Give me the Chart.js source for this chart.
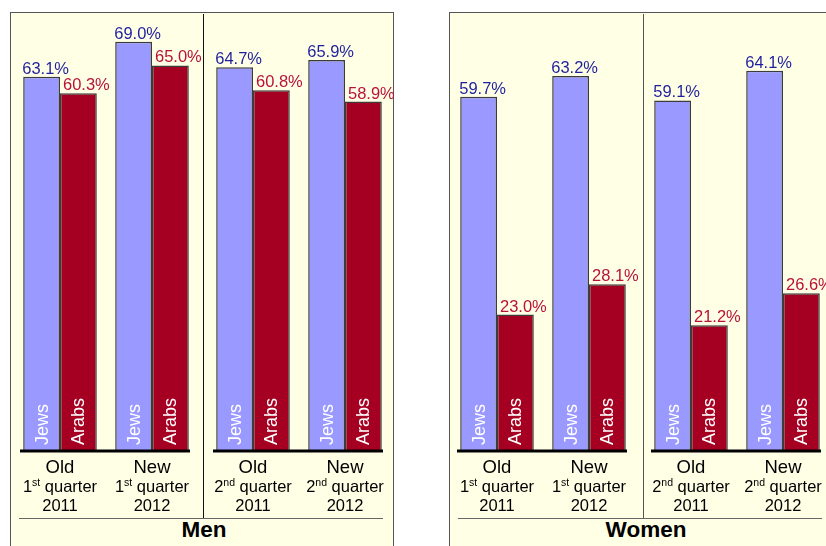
<!DOCTYPE html>
<html>
<head>
<meta charset="utf-8">
<script src="https://cdn.jsdelivr.net/npm/chart.js@4.4.1/dist/chart.umd.min.js"></script>
<style>
  html, body { margin: 0; padding: 0; background: #fff; overflow: hidden; }
  body { width: 826px; height: 546px; position: relative; font-family: "Liberation Sans", Arial, sans-serif; }
  .panel { position: absolute; top: 12px; height: 600px; background: #ffffe6; border: 1px solid #555; box-sizing: border-box; }
  .vline { position: absolute; top: 14px; height: 504px; width: 1px; }
  .hline { position: absolute; top: 518px; height: 1px; background: #666; }
  .title { position: absolute; top: 519px; width: 200px; text-align: center; font-weight: bold; font-size: 22.5px; line-height: 22px; color: #000; }
  canvas { position: absolute; top: 0; }
</style>
</head>
<body>
<div class="panel" style="left:10px;width:384px"></div>
<div class="panel" style="left:449px;width:420px"></div>
<div class="vline" style="left:203px;background:#111"></div>
<div class="vline" style="left:643px;background:#555"></div>
<div class="hline" style="left:19px;width:364px"></div>
<div class="hline" style="left:458px;width:364px"></div>
<div class="title" id="titleMen" style="left:104px"></div>
<div class="title" id="titleWomen" style="left:546px"></div>

<canvas id="menA" width="204" height="546" style="left:4px"></canvas>
<canvas id="menB" width="204" height="546" style="left:197px"></canvas>
<canvas id="womenA" width="204" height="546" style="left:441px"></canvas>
<canvas id="womenB" width="204" height="546" style="left:635px"></canvas>

<script>
// chart values
const panelTitles = ["Men", "Women"];
const seriesNames = ["Jews", "Arabs"];
const periods = ["Old", "New", "Old", "New"];
const quarterNums = ["1", "1", "2", "2"];
const quarterSuffix = ["st", "st", "nd", "nd"];
const years = ["2011", "2012", "2011", "2012"];

const menJews = [63.1, 69.0, 64.7, 65.9];
const menArabs = [60.3, 65.0, 60.8, 58.9];
const womenJews = [59.7, 63.2, 59.1, 64.1];
const womenArabs = [23.0, 28.1, 21.2, 26.6];

const FONT = '"Liberation Sans", Arial, sans-serif';
const barFill = ["#9999ff", "#a50021"];
const labelColor = ["#1f1f9e", "#b8123a"];

document.getElementById("titleMen").textContent = panelTitles[0];
document.getElementById("titleWomen").textContent = panelTitles[1];

const labelsPlugin = {
  id: "labels",
  afterDatasetsDraw(chart) {
    const ctx = chart.ctx;
    const area = chart.chartArea;
    const offset = chart.options.plugins.labels.offset;
    ctx.save();

    // thick baseline under the bars
    ctx.strokeStyle = "#000";
    ctx.lineWidth = 3;
    ctx.beginPath();
    ctx.moveTo(area.left + 6, area.bottom);
    ctx.lineTo(area.right - 8, area.bottom);
    ctx.stroke();

    chart.data.datasets.forEach((ds, di) => {
      const meta = chart.getDatasetMeta(di);
      meta.data.forEach((bar, i) => {
        const left = bar.x - bar.width / 2;
        // value above the bar
        ctx.font = "16.5px " + FONT;
        ctx.fillStyle = labelColor[di];
        ctx.textAlign = "left";
        ctx.textBaseline = "alphabetic";
        ctx.fillText(ds.data[i].toFixed(1) + "%", left + (di === 0 ? -1 : 3), bar.y - 3);
        // series name inside the bar
        ctx.save();
        ctx.translate(bar.x + 1, bar.base - 6);
        ctx.rotate(-Math.PI / 2);
        ctx.font = "18px " + FONT;
        ctx.fillStyle = "#fff";
        ctx.textBaseline = "middle";
        ctx.fillText(ds.label, 0, 0);
        ctx.restore();
      });
    });

    // category labels under each group
    const xs = chart.scales.x;
    chart.data.labels.forEach((lab, i) => {
      const k = offset + i;
      const cx = xs.getPixelForValue(i);
      ctx.fillStyle = "#000";
      ctx.textAlign = "center";
      ctx.textBaseline = "alphabetic";
      ctx.font = "18.5px " + FONT;
      ctx.fillText(lab, cx, area.bottom + 22);

      ctx.font = "16.5px " + FONT;
      const wNum = ctx.measureText(quarterNums[k]).width;
      const wRest = ctx.measureText(" quarter").width;
      ctx.font = "10.5px " + FONT;
      const wSup = ctx.measureText(quarterSuffix[k]).width;
      let x = cx - (wNum + wSup + wRest) / 2;
      const y2 = area.bottom + 41;
      ctx.textAlign = "left";
      ctx.font = "16.5px " + FONT;
      ctx.fillText(quarterNums[k], x, y2);
      x += wNum;
      ctx.font = "10.5px " + FONT;
      ctx.fillText(quarterSuffix[k], x, y2 - 6);
      x += wSup;
      ctx.font = "16.5px " + FONT;
      ctx.fillText(" quarter", x, y2);

      ctx.textAlign = "center";
      ctx.fillText(years[k], cx, area.bottom + 60);
    });
    ctx.restore();
  }
};

function makeHalf(id, jews, arabs, start) {
  const end = start + 2;
  return new Chart(document.getElementById(id), {
    type: "bar",
    data: {
      labels: periods.slice(start, end),
      datasets: [
        { label: seriesNames[0], data: jews.slice(start, end), backgroundColor: barFill[0], borderColor: "#3c3c3c", borderWidth: 1.5 },
        { label: seriesNames[1], data: arabs.slice(start, end), backgroundColor: barFill[1], borderColor: "#3c3c3c", borderWidth: 1.5 }
      ]
    },
    options: {
      responsive: false,
      animation: false,
      layout: { padding: { left: 10, right: 10, top: 12, bottom: 95 } },
      datasets: { bar: { categoryPercentage: 0.8, barPercentage: 1.0 } },
      scales: {
        x: { display: false },
        y: { display: false, min: 0, max: 74 }
      },
      plugins: {
        legend: { display: false },
        tooltip: { enabled: false },
        labels: { offset: start }
      }
    },
    plugins: [labelsPlugin]
  });
}

makeHalf("menA", menJews, menArabs, 0);
makeHalf("menB", menJews, menArabs, 2);
makeHalf("womenA", womenJews, womenArabs, 0);
makeHalf("womenB", womenJews, womenArabs, 2);
</script>
</body>
</html>
